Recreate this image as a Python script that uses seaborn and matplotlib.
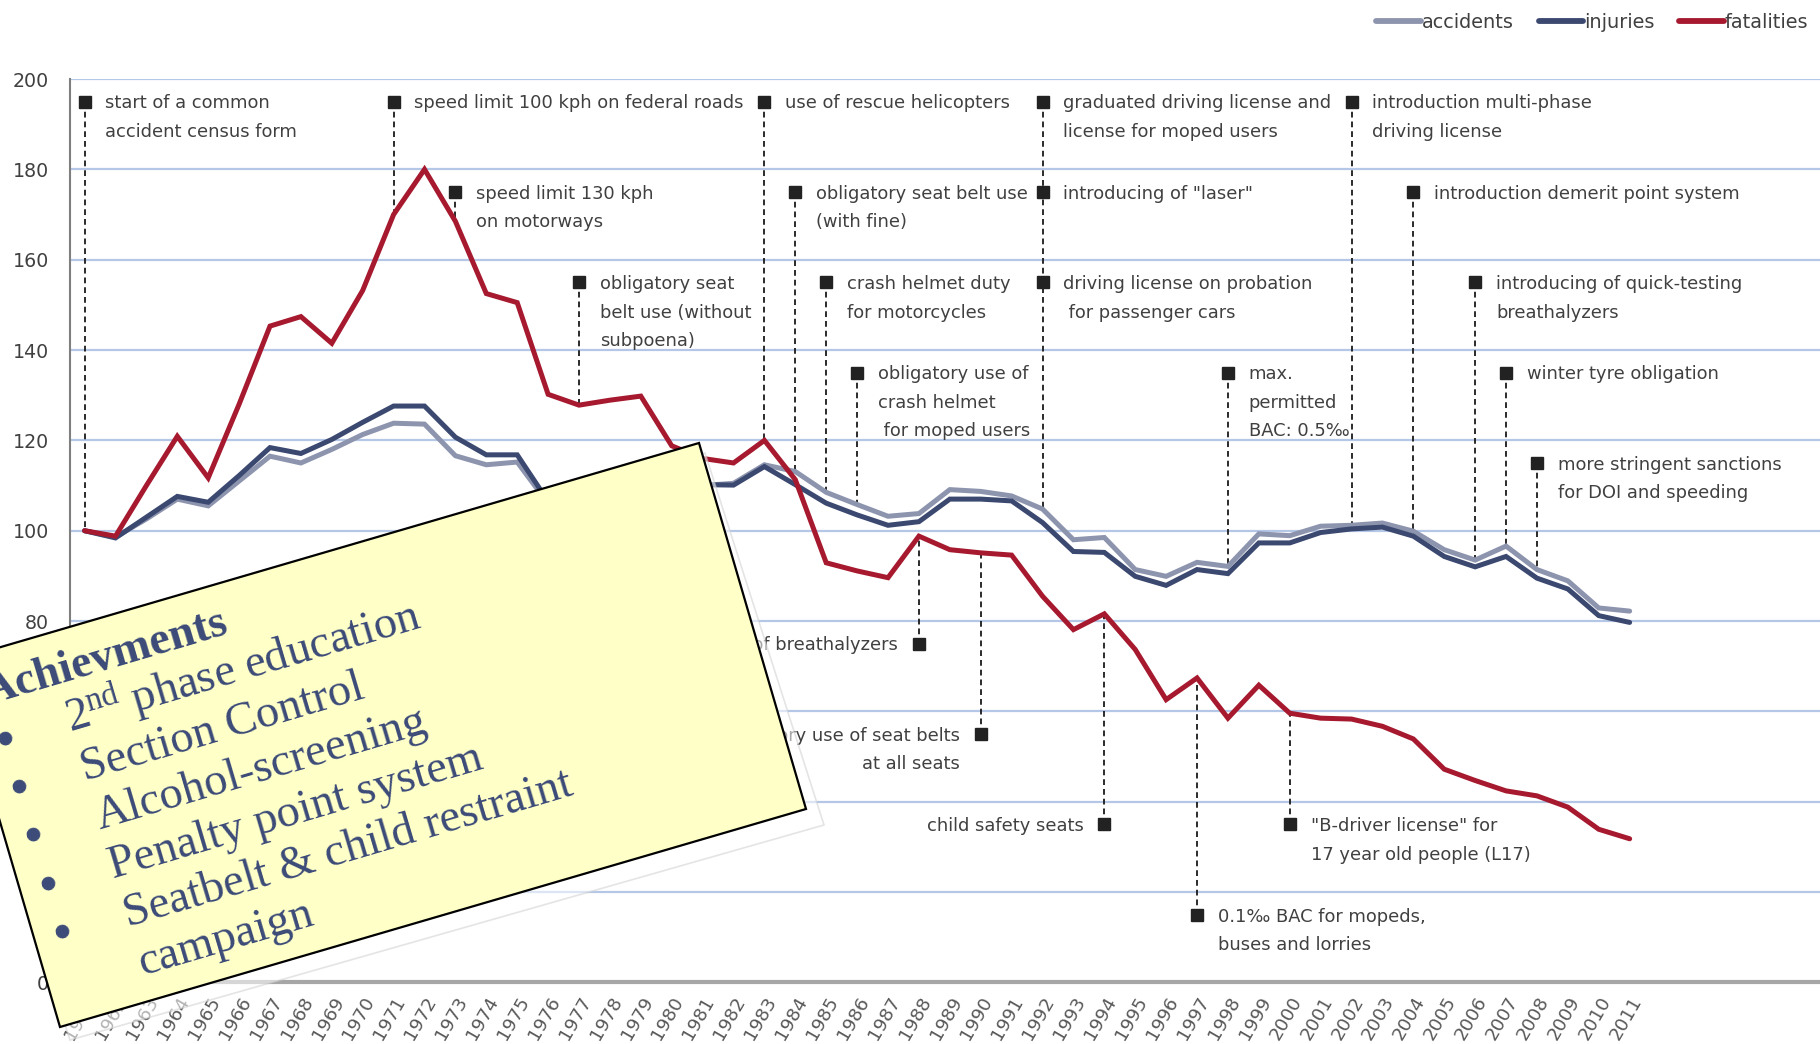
import matplotlib
matplotlib.use("Agg")
import matplotlib.pyplot as plt
import seaborn as sns
import pandas as pd
from matplotlib import font_manager
from matplotlib.patches import Polygon
from matplotlib.lines import Line2D
import math

# index values (1961 = 100)
years = list(range(1961, 2012))
accidents = [100, 98.6, 102.6, 107.0, 105.5, 111.0, 116.5, 115.0, 118.0, 121.3,
             123.8, 123.6, 116.6, 114.6, 115.2, 106.0, 108.0, 110.0, 111.0, 110.0,
             110.0, 110.5, 114.6, 113.1, 108.5, 105.8, 103.2, 103.8, 109.1, 108.7,
             107.7, 104.8, 98.0, 98.5, 91.4, 89.9, 93.0, 92.1, 99.3, 98.9,
             101.0, 101.2, 101.7, 99.9, 95.8, 93.5, 96.6, 91.4, 88.9, 82.9, 82.2]
injuries = [100, 98.4, 103.0, 107.6, 106.3, 112.2, 118.4, 117.1, 120.2, 124.0,
            127.6, 127.6, 120.7, 116.8, 116.8, 106.5, 109.0, 111.0, 112.0, 110.5,
            110.2, 110.1, 114.2, 110.2, 106.1, 103.5, 101.2, 102.0, 107.0, 107.0,
            106.6, 101.8, 95.4, 95.2, 89.9, 87.9, 91.4, 90.5, 97.3, 97.3,
            99.6, 100.4, 100.8, 98.8, 94.3, 92.0, 94.3, 89.5, 87.1, 81.2, 79.7]
fatalities = [100, 98.8, 110.0, 120.9, 111.7, 128.0, 145.3, 147.4, 141.5, 153.2,
              170.0, 180.0, 168.5, 152.5, 150.5, 130.2, 127.8, 128.9, 129.8, 118.8,
              116.0, 115.0, 120.0, 111.3, 92.9, 91.1, 89.6, 98.8, 95.8, 95.1,
              94.6, 85.5, 78.1, 81.6, 73.7, 62.6, 67.4, 58.5, 65.8, 59.6,
              58.5, 58.3, 56.7, 53.9, 47.2, 44.7, 42.4, 41.3, 38.8, 33.9, 31.8]

series_names = ["accidents", "injuries", "fatalities"]
series_colors = ["#8d94ae", "#3b4870", "#a6192e"]
y_ticks = list(range(0, 201, 20))

# milestones: year, height of marker, text, text on left side of marker
ann_years = [1961, 1971, 1983, 1992, 2002,
             1973, 1984, 1992, 2004,
             1977, 1985, 1992, 2006,
             1986, 1998, 2007,
             2008,
             1988, 1990, 1994, 1997, 2000]
ann_levels = [195, 195, 195, 195, 195,
              175, 175, 175, 175,
              155, 155, 155, 155,
              135, 135, 135,
              115,
              75, 55, 35, 15, 35]
ann_texts = ["start of a common\naccident census form",
             "speed limit 100 kph on federal roads",
             "use of rescue helicopters",
             "graduated driving license and\nlicense for moped users",
             "introduction multi-phase\ndriving license",
             "speed limit 130 kph\non motorways",
             "obligatory seat belt use\n(with fine)",
             'introducing of "laser"',
             "introduction demerit point system",
             "obligatory seat\nbelt use (without\nsubpoena)",
             "crash helmet duty\nfor motorcycles",
             "driving license on probation\n for passenger cars",
             "introducing of quick-testing\nbreathalyzers",
             "obligatory use of\ncrash helmet\n for moped users",
             "max.\npermitted\nBAC: 0.5\u2030",
             "winter tyre obligation",
             "more stringent sanctions\nfor DOI and speeding",
             "introduction of breathalyzers",
             "obligatory use of seat belts\nat all seats",
             "child safety seats",
             "0.1\u2030 BAC for mopeds,\nbuses and lorries",
             "\"B-driver license\" for\n17 year old people (L17)"]
ann_left = [False] * 17 + [True, True, True, False, False]

note_title = "Achievments"
note_items = ["2$^{\\rm nd}$ phase education", "Section Control", "Alcohol-screening",
              "Penalty point system", "Seatbelt & child restraint", "campaign"]
note_bullets = 5

sns.set_style("white")
names = {f.name for f in font_manager.fontManager.ttflist}
narrow = "Liberation Sans Narrow" in names
sans = "Liberation Sans Narrow" if narrow else "DejaVu Sans"
fs = 1.0 if narrow else 0.78
plt.rcParams["font.family"] = [sans, "DejaVu Sans"]
plt.rcParams["mathtext.fontset"] = "custom"
plt.rcParams["mathtext.rm"] = "Liberation Serif"
plt.rcParams["mathtext.it"] = "Liberation Serif:italic"
plt.rcParams["mathtext.bf"] = "Liberation Serif:bold"

W, H = 1820, 1044
fig = plt.figure(figsize=(W / 100, H / 100), dpi=100)
ax = fig.add_axes([0.0385, 0.059, 0.9615, 0.8653])

df = pd.DataFrame({"year": years * 3,
                   "value": accidents + injuries + fatalities,
                   "series": [s for s in series_names for _ in years]})
sns.lineplot(data=df, x="year", y="value", hue="series", hue_order=series_names,
             palette=dict(zip(series_names, series_colors)), linewidth=3.6,
             legend=False, ax=ax, zorder=3)
for ln in ax.lines:
    ln.set_solid_capstyle("round")
    ln.set_solid_joinstyle("miter")

# milestone markers with dashed leaders (one leader per year)
vals = pd.DataFrame({"a": accidents, "i": injuries, "f": fatalities}, index=years)
ann = pd.DataFrame({"year": ann_years, "level": ann_levels})
for yr, grp in ann.groupby("year"):
    top = vals.loc[yr].max()
    above = grp.level[grp.level > top]
    below = grp.level[grp.level <= top]
    if len(above):
        ax.plot([yr, yr], [above.max(), top], ls=(0, (3.2, 2.2)), color="#1a1a1a", lw=1.3, zorder=2)
    if len(below):
        ax.plot([yr, yr], [below.min(), vals.loc[yr, "f"]], ls=(0, (3.2, 2.2)), color="#1a1a1a",
                lw=1.3, zorder=2)

tsize = 16.5 * fs
for yr, lev, txt, left in zip(ann_years, ann_levels, ann_texts, ann_left):
    ax.plot([yr], [lev], marker="s", ms=8.5, color="#222222", zorder=4)
    ax.annotate(txt, xy=(yr, lev), xytext=(-15 if left else 15, 0.4 * tsize),
                textcoords="offset points", ha="right" if left else "left", va="top",
                multialignment="right" if left else "left",
                fontsize=tsize, color="#404040", linespacing=1.75, zorder=4)

ax.set_xlim(1960.53, 2017.16)
ax.set_ylim(0, 200)
ax.set_yticks(y_ticks)
ax.set_xticks(years)
ax.set_xticklabels([str(y) for y in years], rotation=60, ha="right", rotation_mode="anchor")
ax.tick_params(axis="y", length=0, pad=15, labelsize=17.5 * fs, labelcolor="#404040")
ax.tick_params(axis="x", length=0, pad=8, labelsize=17 * fs, labelcolor="#595959")
ax.yaxis.grid(True, color="#b4c7e7", lw=1.6)
ax.xaxis.grid(False)
ax.set_axisbelow(True)
ax.set_xlabel("")
ax.set_ylabel("")
for s in ["top", "right"]:
    ax.spines[s].set_visible(False)
ax.spines["left"].set_color("#7f7f7f")
ax.spines["left"].set_linewidth(1.5)
ax.spines["bottom"].set_color("#a6a6a6")
ax.spines["bottom"].set_linewidth(3)

handles = [Line2D([], [], color=c, lw=4.2, solid_capstyle="round") for c in series_colors]
fig.legend(handles, series_names, loc="center right", bbox_to_anchor=(1.0, 1 - 22 / 1044),
           ncol=3, frameon=False, handlelength=2.3, handletextpad=0.05, columnspacing=1.3,
           fontsize=17.8 * fs, labelcolor="#404040", borderaxespad=0.2)


# sticky note laid over the chart (pixel positions of the picture)
def px(x, y):
    return (x / W, 1 - y / H)


shadow = Polygon([px(-49, 668), px(705, 453), px(824, 825), px(70, 1040)], closed=True,
                 transform=fig.transFigure, facecolor="white", alpha=0.55,
                 edgecolor="#cfcfcf", lw=1.2, zorder=9)
note = Polygon([px(-47, 661), px(699, 443), px(806, 809), px(60, 1027)], closed=True,
               transform=fig.transFigure, facecolor="#ffffc8", edgecolor="black",
               lw=1.6, zorder=10)
fig.patches.extend([shadow, note])

th = math.radians(16.5)
u = (math.cos(th), -math.sin(th))
v = (math.sin(th), math.cos(th))
L = 50.5
ax0, ay0 = 70.5, 733
navy = "#3b4a78"
serif = ["Liberation Serif", "DejaVu Serif"]
tx, ty = ax0 - L * v[0] - 72 * u[0], ay0 - L * v[1] - 72 * u[1]
fig.text(*px(tx, ty), note_title, rotation=16.5, rotation_mode="anchor", ha="left",
         va="baseline", fontsize=33, fontweight="bold", color=navy, family=serif, zorder=11)
for k, item in enumerate(note_items):
    bx, by = ax0 + k * L * v[0], ay0 + k * L * v[1]
    fig.text(*px(bx, by), item, rotation=16.5, rotation_mode="anchor", ha="left",
             va="baseline", fontsize=33.5, color=navy, family=serif, zorder=11)
for k in range(note_bullets):
    cx = ax0 + k * L * v[0] - 64 * u[0] - 14 * v[0]
    cy = ay0 + k * L * v[1] - 64 * u[1] - 14 * v[1]
    fig.text(*px(cx, cy), "\u25cf", rotation=16, ha="center", va="center",
             fontsize=13, color=navy, family=["DejaVu Sans"], zorder=11)

fig.savefig("out.png", dpi=100)
